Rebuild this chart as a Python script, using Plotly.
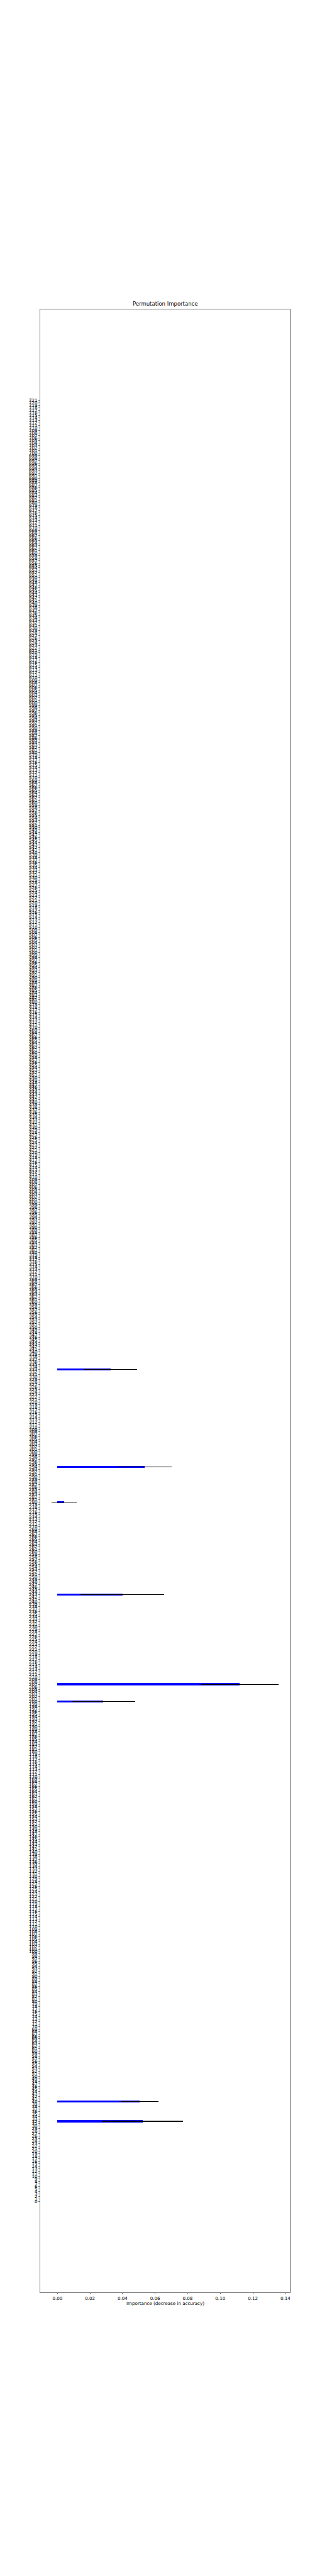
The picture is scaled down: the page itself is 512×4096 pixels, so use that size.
import plotly.graph_objects as go

# ---- data ----
n_features = 722
feature_ids = list(range(n_features))
nonzero_features = [32, 40, 200, 207, 243, 280, 294, 333]
nonzero_means = [0.0522, 0.0504, 0.0281, 0.1120, 0.0399, 0.0042, 0.0535, 0.0325]
nonzero_stds = [0.0248, 0.0116, 0.0195, 0.0238, 0.0257, 0.0078, 0.0167, 0.0164]
x_ticks = [0.00, 0.02, 0.04, 0.06, 0.08, 0.10, 0.12, 0.14]
x_ticktext = ["0.00", "0.02", "0.04", "0.06", "0.08", "0.10", "0.12", "0.14"]

means = [0.0] * n_features
stds = [0.0] * n_features
for f, m, s in zip(nonzero_features, nonzero_means, nonzero_stds):
    means[f] = m
    stds[f] = s

S = 0.512
PX = 100 / 72 * S  # points -> output pixels
FONT = "DejaVu Sans"
W, H = 512, 4096
ml, mr, mt, mb = 125 * S, (1000 - 900) * S, 960 * S, (8000 - 7120) * S

fig = go.Figure()
fig.add_trace(go.Bar(
    y=feature_ids, x=means, orientation="h", width=0.8,
    marker=dict(color="#0000ff", line=dict(width=0)),
    error_x=dict(type="data", array=stds, visible=True, color="black",
                 thickness=1.5 * PX, width=0),
    showlegend=False,
))

xmin = min(0.0, min(m - s for m, s in zip(means, stds)))
xmax = max(m + s for m, s in zip(means, stds))
xspan = xmax - xmin
ylo, yhi = -0.4, n_features - 1 + 0.4
yspan = yhi - ylo

axis_common = dict(
    showline=True, mirror=True, linecolor="black", linewidth=0.8 * PX,
    ticks="outside", ticklen=3.5 * PX, tickwidth=0.8 * PX,
    tickcolor="black", showgrid=False, zeroline=False,
    tickfont=dict(family=FONT, size=10 * PX, color="black"),
)

fig.update_xaxes(range=[xmin - 0.05 * xspan, xmax + 0.05 * xspan],
                 tickmode="array", tickvals=x_ticks, ticktext=x_ticktext,
                 **axis_common)
fig.update_yaxes(range=[ylo - 0.05 * yspan, yhi + 0.05 * yspan],
                 tickmode="array", tickvals=feature_ids,
                 ticktext=[str(i) for i in feature_ids],
                 **axis_common)

fig.update_layout(
    width=W, height=H,
    margin=dict(l=ml, r=mr, t=mt, b=mb, autoexpand=False),
    paper_bgcolor="white", plot_bgcolor="white",
    font=dict(family=FONT, color="black"),
    bargap=0,
)

fig.add_annotation(text="Permutation Importance", xref="paper", yref="paper",
                   x=0.5, y=1, xanchor="center", yanchor="bottom",
                   yshift=6 * PX - 2, showarrow=False,
                   font=dict(family=FONT, size=12 * PX, color="black"))
fig.add_annotation(text="Importance (decrease in accuracy)", xref="paper", yref="paper",
                   x=0.5, y=0, xanchor="center", yanchor="middle",
                   yshift=-35 * S, showarrow=False,
                   font=dict(family=FONT, size=10 * PX, color="black"))

fig.write_html("out.html",
               config={"displayModeBar": False, "staticPlot": True},
               post_script="document.body.style.margin='0';document.body.style.padding='0';")
